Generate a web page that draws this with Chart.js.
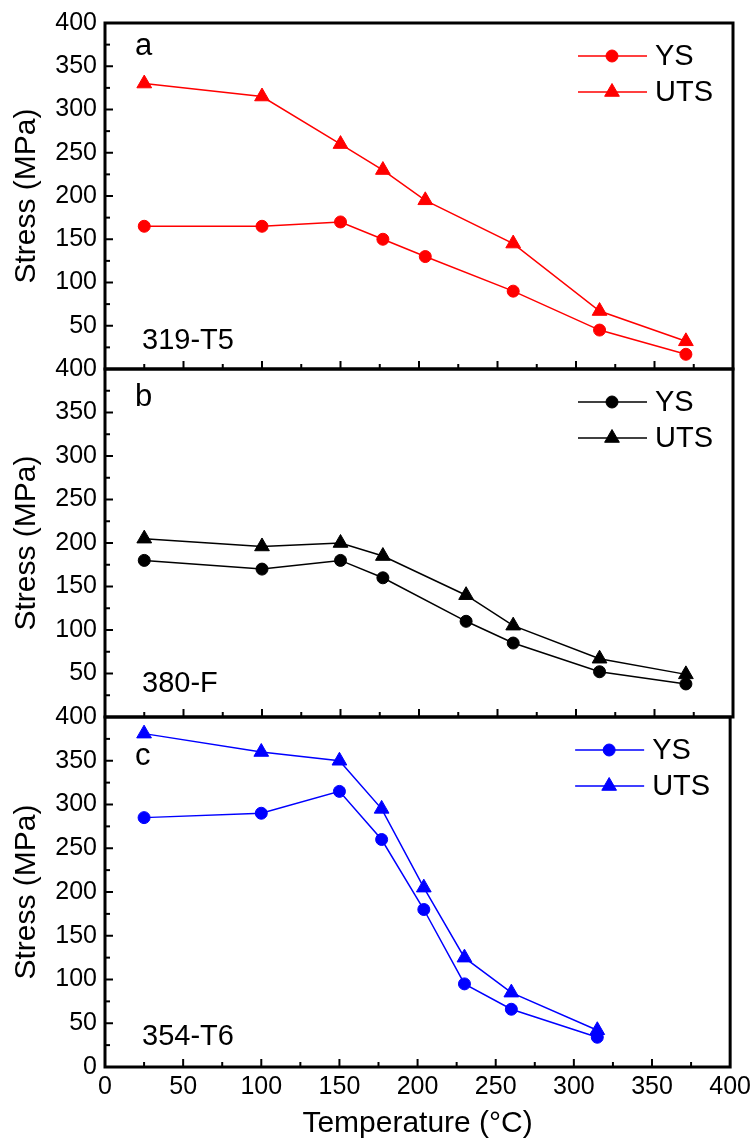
<!DOCTYPE html>
<html>
<head>
<meta charset="utf-8">
<script src="https://cdn.jsdelivr.net/npm/chart.js"></script>
<style>
  html, body { margin: 0; padding: 0; background: #fff; }
  #wrap { position: relative; width: 756px; height: 1142px; }
  #wrap canvas { position: absolute; left: 0; top: 0; }
</style>
</head>
<body>
<div id="wrap">
  <canvas id="chartA" width="756" height="1142"></canvas>
  <canvas id="chartB" width="756" height="1142"></canvas>
  <canvas id="chartC" width="756" height="1142"></canvas>
</div>
<script>
// Dati (temperatura in °C, tensione in MPa)
const seriesNames = ['YS', 'UTS'];

const tempA = [25, 100, 150, 177, 204, 260, 315, 370];
const ysA = [165, 165, 170, 150, 130, 90, 45, 17];
const utsA = [330, 315, 260, 230, 195, 145, 67, 32];

const tempB = [25, 100, 150, 177, 230, 260, 315, 370];
const ysB = [180, 170, 180, 160, 110, 85, 52, 38];
const utsB = [205, 196, 200, 185, 140, 105, 67, 49];

const tempC = [25, 100, 150, 177, 204, 230, 260, 315];
const ysC = [285, 290, 315, 260, 180, 95, 66, 34];
const utsC = [381, 360, 350, 295, 205, 125, 85, 42];

const FONT = "'Liberation Sans', Arial, sans-serif";
const W = 756, H = 1142;

// Disegna un marker come fa Chart.js (cerchio o triangolo)
function drawMarker(ctx, style, radius, x, y) {
    if (Chart.helpers && Chart.helpers.drawPoint) {
        Chart.helpers.drawPoint(ctx, { pointStyle: style, radius: radius, borderWidth: 1, rotation: 0 }, x, y);
        return;
    }
    ctx.beginPath();
    if (style === 'triangle') {
        for (let k = 0; k < 3; k++) {
            const a = k * 2 * Math.PI / 3;
            const px = x + Math.sin(a) * radius, py = y - Math.cos(a) * radius;
            k === 0 ? ctx.moveTo(px, py) : ctx.lineTo(px, py);
        }
        ctx.closePath();
    } else {
        ctx.arc(x, y, radius, 0, Math.PI * 2);
    }
    ctx.fill();
    ctx.stroke();
}

// Cornice, tacche interne, legenda ed etichette del pannello
const panelDecor = {
    id: 'panelDecor',
    afterDraw(chart, args, opts) {
        const { ctx, chartArea: ca } = chart;
        const x = chart.scales.x, y = chart.scales.y;
        ctx.save();

        // tacche verso l'interno (maggiori ogni 50, minori ogni 25)
        ctx.strokeStyle = '#000';
        ctx.lineWidth = 2;
        for (let v = 25; v < 400; v += 25) {
            const len = v % 50 === 0 ? 8 : 5;
            const px = x.getPixelForValue(v);
            ctx.beginPath();
            ctx.moveTo(px, ca.bottom);
            ctx.lineTo(px, ca.bottom - len);
            ctx.stroke();
            const py = y.getPixelForValue(v);
            ctx.beginPath();
            ctx.moveTo(ca.left, py);
            ctx.lineTo(ca.left + len, py);
            ctx.stroke();
        }

        // cornice
        ctx.lineWidth = 3;
        ctx.strokeRect(ca.left, ca.top, ca.right - ca.left, ca.bottom - ca.top);

        // lettera del pannello e lega
        ctx.fillStyle = '#000';
        ctx.textAlign = 'left';
        ctx.textBaseline = 'alphabetic';
        ctx.font = `31px ${FONT}`;
        ctx.fillText(opts.letter, ca.left + 30, ca.top + opts.letterDy);
        ctx.font = `29px ${FONT}`;
        ctx.fillText(opts.alloy, ca.left + 37, ca.bottom - opts.alloyDy);

        // legenda in alto a destra
        chart.data.datasets.forEach((ds, i) => {
            const ly = ca.top + 33 + i * 36;
            ctx.strokeStyle = ds.borderColor;
            ctx.fillStyle = ds.backgroundColor;
            ctx.lineWidth = 1.5;
            ctx.beginPath();
            ctx.moveTo(ca.right - 155, ly);
            ctx.lineTo(ca.right - 86, ly);
            ctx.stroke();
            ctx.lineWidth = 1;
            drawMarker(ctx, ds.pointStyle, ds.pointRadius, ca.right - 121, ly);
            ctx.fillStyle = '#000';
            ctx.font = `29px ${FONT}`;
            ctx.textBaseline = 'middle';
            ctx.fillText(ds.label, ca.right - 78, ly + 1);
        });

        ctx.restore();
    }
};

function toPoints(xs, ys) {
    return xs.map((t, i) => ({ x: t, y: ys[i] }));
}

function makePanel(canvasId, p) {
    const ctx = document.getElementById(canvasId).getContext('2d');
    const datasets = [p.ys, p.uts].map((vals, i) => ({
        label: seriesNames[i],
        data: toPoints(p.temps, vals),
        borderColor: p.color,
        backgroundColor: p.color,
        borderWidth: 1.5,
        pointStyle: i === 0 ? 'circle' : 'triangle',
        pointRadius: i === 0 ? 6 : 8.5,
        pointBorderWidth: 1,
        tension: 0
    }));

    return new Chart(ctx, {
        type: 'line',
        data: { datasets: datasets },
        options: {
            responsive: false,
            devicePixelRatio: 1,
            animation: false,
            events: [],
            layout: {
                padding: { left: 9, right: 23, top: p.top, bottom: p.showX ? 0 : H - p.bottom }
            },
            scales: {
                x: {
                    type: 'linear',
                    min: 0,
                    max: 400,
                    display: p.showX,
                    grid: { display: false, drawTicks: false },
                    border: { display: false },
                    ticks: {
                        stepSize: 50,
                        padding: 5,
                        color: '#000',
                        font: { family: FONT, size: 25 }
                    },
                    title: {
                        display: true,
                        text: 'Temperature (°C)',
                        color: '#000',
                        padding: 0,
                        font: { family: FONT, size: 30 }
                    },
                    afterFit: (scale) => {
                        if (p.showX) scale.height = H - p.bottom;
                    }
                },
                y: {
                    min: 0,
                    max: 400,
                    grid: { display: false, drawTicks: false },
                    border: { display: false },
                    ticks: {
                        stepSize: 50,
                        padding: 8,
                        color: '#000',
                        font: { family: FONT, size: 25 },
                        callback: (v) => (v === 0 && !p.showX) ? '' : v
                    },
                    title: {
                        display: true,
                        text: 'Stress (MPa)',
                        color: '#000',
                        padding: 0,
                        font: { family: FONT, size: 30 }
                    },
                    afterFit: (scale) => { scale.width = 96; }
                }
            },
            plugins: {
                legend: { display: false },
                tooltip: { enabled: false },
                panelDecor: {
                    letter: p.letter,
                    letterDy: p.letterDy,
                    alloy: p.alloy,
                    alloyDy: p.alloyDy
                }
            }
        },
        plugins: [panelDecor]
    });
}

makePanel('chartA', {
    temps: tempA, ys: ysA, uts: utsA, color: '#ff0000',
    letter: 'a', letterDy: 32, alloy: '319-T5', alloyDy: 20,
    top: 20, bottom: 369, showX: false
});
makePanel('chartB', {
    temps: tempB, ys: ysB, uts: utsB, color: '#000000',
    letter: 'b', letterDy: 37, alloy: '380-F', alloyDy: 25,
    top: 369, bottom: 717, showX: false
});
makePanel('chartC', {
    temps: tempC, ys: ysC, uts: utsC, color: '#0000ff',
    letter: 'c', letterDy: 48, alloy: '354-T6', alloyDy: 22,
    top: 717, bottom: 1067, showX: true
});
</script>
</body>
</html>
